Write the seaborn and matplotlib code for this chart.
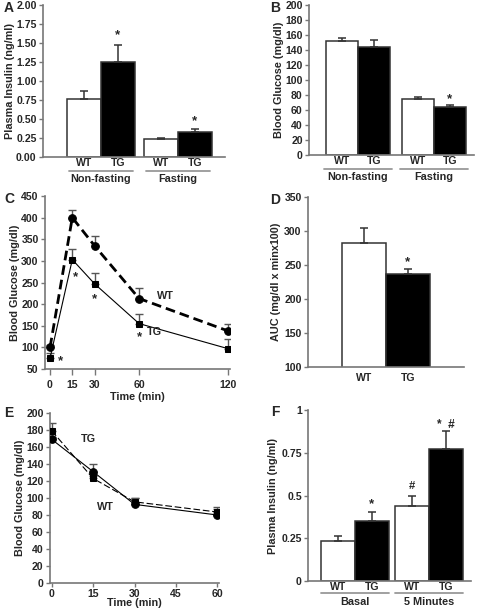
import numpy as np
import pandas as pd
import matplotlib
matplotlib.use('Agg')
import matplotlib.pyplot as plt
import matplotlib.transforms as mtransforms
import seaborn as sns

# ---- data ----
# A: plasma insulin (ng/ml)
a_groups = ['Non-fasting', 'Fasting']
a_wt = [0.765, 0.233]
a_wt_err = [0.105, 0.017]
a_tg = [1.244, 0.33]
a_tg_err = [0.224, 0.035]

# B: blood glucose (mg/dl)
b_groups = ['Non-fasting', 'Fasting']
b_wt = [152, 74.5]
b_wt_err = [4.5, 3]
b_tg = [144.5, 64]
b_tg_err = [9, 3]

# C: glucose tolerance
c_time = [0, 15, 30, 60, 120]
c_wt = [100, 400, 335, 213, 138]
c_wt_err = [5, 18, 23, 25, 15]
c_tg = [75, 303, 247, 155, 97]
c_tg_err = [13, 25, 25, 23, 23]

# D: AUC (mg/dl x minx100)
d_geno = ['WT', 'TG']
d_auc = [282, 236.5]
d_auc_err = [23, 7]

# E: insulin tolerance
e_time = [0, 15, 30, 60]
e_wt = [169, 131, 92.5, 80]
e_wt_err = [3, 9, 8, 9]
e_tg = [179, 123, 95.5, 83.5]
e_tg_err = [9, 3, 5, 4]

# F: plasma insulin basal / 5 min
f_groups = ['Basal', '5 Minutes']
f_wt = [0.234, 0.437]
f_wt_err = [0.027, 0.062]
f_tg = [0.351, 0.774]
f_tg_err = [0.051, 0.105]

sns.set_style('ticks')
plt.rcParams['font.family'] = ['Liberation Sans', 'DejaVu Sans']
plt.rcParams['font.weight'] = 'bold'
plt.rcParams['axes.labelweight'] = 'bold'

W, H = 483, 609
fig = plt.figure(figsize=(W / 100, H / 100), dpi=100)
FS = 7.6
LFS = 7.8
SPINE = '#777777'


def box(x0, y0, x1, y1):
    return [x0 / W, 1 - y1 / H, (x1 - x0) / W, (y1 - y0) / H]


def style(ax):
    sns.despine(ax=ax)
    for s in ['left', 'bottom']:
        ax.spines[s].set_color(SPINE)
        ax.spines[s].set_linewidth(1.2)
    ax.tick_params(axis='both', labelsize=FS, length=3, width=1, color=SPINE, pad=1.5)
    for t in ax.get_xticklabels() + ax.get_yticklabels():
        t.set_fontweight('bold')


def below(ax, px):
    return mtransforms.offset_copy(ax.get_xaxis_transform(), fig=fig, y=-px / 100, units='inches')


def star(ax, x, y, s='*', size=None):
    ax.text(x, y, s, ha='center', va='center', fontsize=size or FS + 2, fontweight='bold')


def bar_panel(ax, groups, wt, wt_err, tg, tg_err, width, xlim):
    n = len(groups)
    df = pd.DataFrame({'group': groups * 2, 'geno': ['WT'] * n + ['TG'] * n,
                       'value': wt + tg})
    sns.barplot(data=df, x='group', y='value', hue='geno', hue_order=['WT', 'TG'],
                palette={'WT': 'white', 'TG': 'black'}, saturation=1, width=width,
                edgecolor='#333333', linewidth=1.1, errorbar=None, legend=False, ax=ax)
    ticks = []
    for cont, lab, vals, errs in zip(ax.containers, ['WT', 'TG'], [wt, tg], [wt_err, tg_err]):
        xs = [b.get_x() + b.get_width() / 2 for b in cont]
        ax.errorbar(xs, vals, yerr=[np.zeros(len(errs)), errs], fmt='none',
                    ecolor='#333333', elinewidth=1.1, capsize=2.8, capthick=1.1, zorder=1)
        ticks += list(zip(xs, [lab] * len(xs)))
    ticks.sort()
    ax.set_xticks([t[0] for t in ticks])
    ax.set_xticklabels([t[1] for t in ticks], fontweight='bold')
    ax.set_xlim(*xlim)
    ax.set_xlabel('')
    return ticks


def group_labels(ax, groups, half, line_px, text_px):
    ax.tick_params(axis='x', length=0, pad=0.5)
    for i, g in enumerate(groups):
        ax.plot([i - half, i + half], [0, 0], color='#999999', lw=1.3,
                transform=below(ax, line_px), clip_on=False)
        ax.text(i, 0, g, ha='center', va='center', fontsize=LFS, fontweight='bold',
                transform=below(ax, text_px))


# ---- A ----
axA = fig.add_axes(box(43, 5, 225, 157))
bar_panel(axA, a_groups, a_wt, a_wt_err, a_tg, a_tg_err, 0.88, (-0.753, 1.61))
axA.set_ylim(0, 2)
axA.set_yticks(np.arange(0, 2.01, 0.25))
axA.set_yticklabels([f'{v:.2f}' for v in np.arange(0, 2.01, 0.25)])
axA.set_ylabel('Plasma Insulin (ng/ml)', fontsize=LFS, labelpad=0.5)
style(axA)
group_labels(axA, a_groups, 0.42, 13.5, 21.5)
star(axA, 0.22, 1.6)
star(axA, 1.22, 0.47)

# ---- B ----
axB = fig.add_axes(box(309, 5, 474, 155))
bar_panel(axB, b_groups, b_wt, b_wt_err, b_tg, b_tg_err, 0.84, (-0.645, 1.53))
axB.set_ylim(0, 200)
axB.set_yticks(np.arange(0, 201, 20))
axB.set_ylabel('Blood Glucose (mg/dl)', fontsize=LFS, labelpad=1)
style(axB)
group_labels(axB, b_groups, 0.45, 13.5, 22)
star(axB, 1.21, 74)

# ---- C ----
axC = fig.add_axes(box(45, 196, 230, 369))
sns.lineplot(x=c_time, y=c_wt, ax=axC, color='black', lw=2, marker='o', markersize=5.5,
             markeredgecolor='black', zorder=3)
axC.lines[-1].set_dashes((3.5, 1.8))
sns.lineplot(x=c_time, y=c_tg, ax=axC, color='black', lw=0.8, marker='s', markersize=5,
             markeredgecolor='black', zorder=3)
for vals, errs in [(c_wt, c_wt_err), (c_tg, c_tg_err)]:
    axC.errorbar(c_time, vals, yerr=[np.zeros(len(errs)), errs], fmt='none',
                 ecolor='#555555', elinewidth=1, capsize=2.8, capthick=1, zorder=2)
axC.set_xlim(-3.4, 121.3)
axC.set_ylim(50, 450)
axC.set_xticks(c_time)
axC.set_yticks(np.arange(50, 451, 50))
axC.set_xlabel('Time (min)', fontsize=LFS, labelpad=1)
axC.set_ylabel('Blood Glucose (mg/dl)', fontsize=LFS, labelpad=1)
style(axC)
axC.tick_params(axis='x', length=4, pad=4)
for x, y in [(7, 68), (17.5, 262), (30, 212), (60, 124)]:
    star(axC, x, y)
axC.text(78, 218, 'WT', ha='center', va='center', fontsize=LFS, fontweight='bold')
axC.text(70, 135, 'TG', ha='center', va='center', fontsize=LFS, fontweight='bold')

# ---- D ----
axD = fig.add_axes(box(308, 197, 464, 367))
dfD = pd.DataFrame({'grp': [''] * 2, 'geno': d_geno, 'value': d_auc})
sns.barplot(data=dfD, x='grp', y='value', hue='geno', hue_order=d_geno,
            palette={'WT': 'white', 'TG': 'black'}, saturation=1, width=0.9,
            edgecolor='#333333', linewidth=1.1, errorbar=None, legend=False, ax=axD)
d_x = [c[0].get_x() + c[0].get_width() / 2 for c in axD.containers]
axD.errorbar(d_x, d_auc, yerr=[np.zeros(2), d_auc_err], fmt='none', ecolor='#333333',
             elinewidth=1.1, capsize=2.8, capthick=1.1, zorder=1)
axD.set_xticks(d_x)
axD.set_xticklabels(d_geno, fontweight='bold')
axD.set_xlim(-0.8, 0.8)
axD.set_ylim(100, 350)
axD.set_yticks(np.arange(100, 351, 50))
axD.set_xlabel('')
axD.set_ylabel('AUC (mg/dl x minx100)', fontsize=LFS, labelpad=2)
style(axD)
axD.tick_params(axis='x', length=0, pad=4)
star(axD, d_x[1], 254)

# ---- E ----
axE = fig.add_axes(box(50, 413, 219, 583))
sns.lineplot(x=e_time, y=e_wt, ax=axE, color='black', lw=0.8, marker='o', markersize=5.5,
             markeredgecolor='black', zorder=3)
sns.lineplot(x=e_time, y=e_tg, ax=axE, color='black', lw=0.8, marker='s', markersize=5,
             markeredgecolor='black', zorder=3)
axE.lines[-1].set_dashes((6, 2.5))
for vals, errs in [(e_wt, e_wt_err), (e_tg, e_tg_err)]:
    axE.errorbar(e_time, vals, yerr=[np.zeros(len(errs)), errs], fmt='none',
                 ecolor='#555555', elinewidth=1, capsize=2.8, capthick=1, zorder=2)
axE.set_xlim(-0.62, 60.6)
axE.set_ylim(0, 200)
axE.set_xticks([0, 15, 30, 45, 60])
axE.set_yticks(np.arange(0, 201, 20))
axE.set_xlabel('Time (min)', fontsize=LFS, labelpad=-1)
axE.set_ylabel('Blood Glucose (mg/dl)', fontsize=LFS, labelpad=1)
style(axE)
axE.text(13.3, 169, 'TG', ha='center', va='center', fontsize=LFS, fontweight='bold')
axE.text(19.4, 90, 'WT', ha='center', va='center', fontsize=LFS, fontweight='bold')

# ---- F ----
axF = fig.add_axes(box(308, 410, 471, 581))
bar_panel(axF, f_groups, f_wt, f_wt_err, f_tg, f_tg_err, 0.92, (-0.635, 1.57))
axF.set_ylim(0, 1)
axF.set_yticks([0, 0.25, 0.5, 0.75, 1])
axF.set_yticklabels(['0', '0.25', '0.5', '0.75', '1'])
axF.set_ylabel('Plasma Insulin (ng/ml)', fontsize=LFS, labelpad=2)
style(axF)
group_labels(axF, f_groups, 0.46, 11.5, 21)
star(axF, 0.23, 0.45)
star(axF, 0.77, 0.556, '#', FS + 0.5)
axF.text(1.23, 0.912, '*  #', ha='center', va='center', fontsize=FS + 1, fontweight='bold')

# panel letters
for lab, x, y in [('A', 4, 8), ('B', 270, 8), ('C', 4, 199), ('D', 270, 200),
                  ('E', 4, 413), ('F', 271, 412)]:
    fig.text(x / W, 1 - y / H, lab, ha='left', va='center', fontsize=10, fontweight='bold')

fig.savefig('out.png', dpi=100)
